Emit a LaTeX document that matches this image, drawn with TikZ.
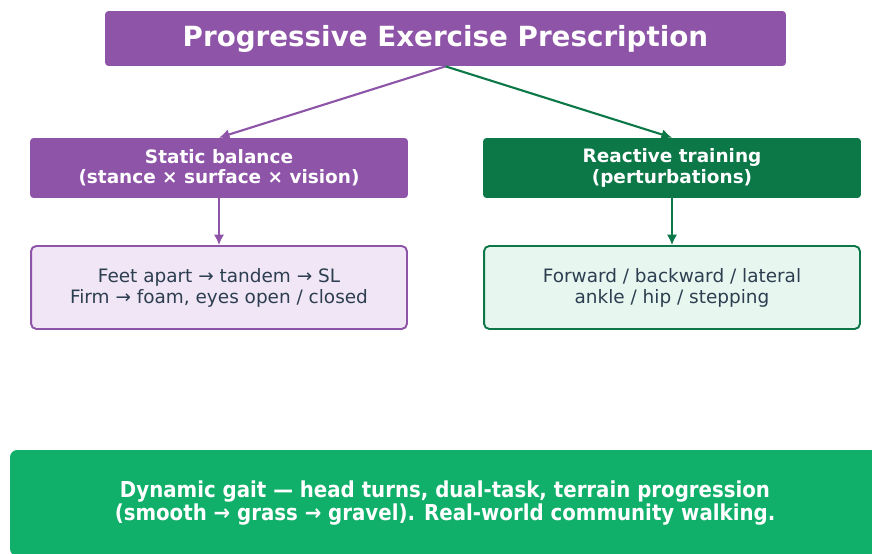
\documentclass[tikz,border=0pt]{standalone}
\usepackage{fontspec}
\setmainfont{DejaVu Sans}
\newfontfamily\narrowfont{DejaVu Sans}[FakeStretch=0.9]
\usetikzlibrary{arrows.meta}
\definecolor{purplehead}{HTML}{8E54A7}
\definecolor{greenhead}{HTML}{0C7747}
\definecolor{purplelight}{HTML}{F1E6F5}
\definecolor{greenlight}{HTML}{E8F6F0}
\definecolor{greengait}{HTML}{10B06A}
\definecolor{slatetext}{HTML}{2C3E50}
\begin{document}
\begin{tikzpicture}[x=0.02cm,y=-0.02cm,
    headbox/.style={rounded corners=2pt, text=white, font=\bfseries\fontsize{10.5}{11.6}\selectfont, align=center, minimum width=7.56cm, minimum height=1.2cm},
    detailbox/.style={draw, line width=1.1pt, rounded corners=3pt, text=slatetext, font=\fontsize{10.5}{12}\selectfont, align=center, minimum width=7.52cm, minimum height=1.66cm},
    flow/.style={line width=1.2pt, -{Latex[length=6pt,width=6pt]}}]
    \useasboundingbox (0,0) rectangle (872,554);
    \clip (0,0) rectangle (872,554);
    % top
    \node[fill=purplehead, rounded corners=2pt, text=white, font=\bfseries\fontsize{15.8}{18}\selectfont, minimum width=13.62cm, minimum height=1.1cm] (title) at (445.5,38.5) {Progressive Exercise Prescription};
    % two branches
    \node[headbox, fill=purplehead] (static) at (219,168) {Static balance\\(stance × surface × vision)};
    \node[headbox, fill=greenhead] (reactive) at (672,168) {Reactive training\\(perturbations)};
    \node[detailbox, draw=purplehead, fill=purplelight] (feet) at (219,287.5) {Feet apart → tandem → SL\\Firm → foam, eyes open / closed};
    \node[detailbox, draw=greenhead, fill=greenlight] (forward) at (672,287.5) {Forward / backward / lateral\\ankle / hip / stepping};
    % bottom
    \node[fill=greengait, rounded corners=4pt, text=white, font=\narrowfont\bfseries\fontsize{12.5}{12.6}\selectfont, align=center, minimum width=17.4cm, minimum height=2.12cm] (gait) at (445,503) {Dynamic gait — head turns, dual-task, terrain progression\\(smooth → grass → gravel). Real-world community walking.};
    % arrows
    \draw[flow, purplehead] (title.south) -- (static.north);
    \draw[flow, greenhead] (title.south) -- (reactive.north);
    \draw[flow, purplehead] (static.south) -- (feet.north);
    \draw[flow, greenhead] (reactive.south) -- (forward.north);
\end{tikzpicture}
\end{document}
